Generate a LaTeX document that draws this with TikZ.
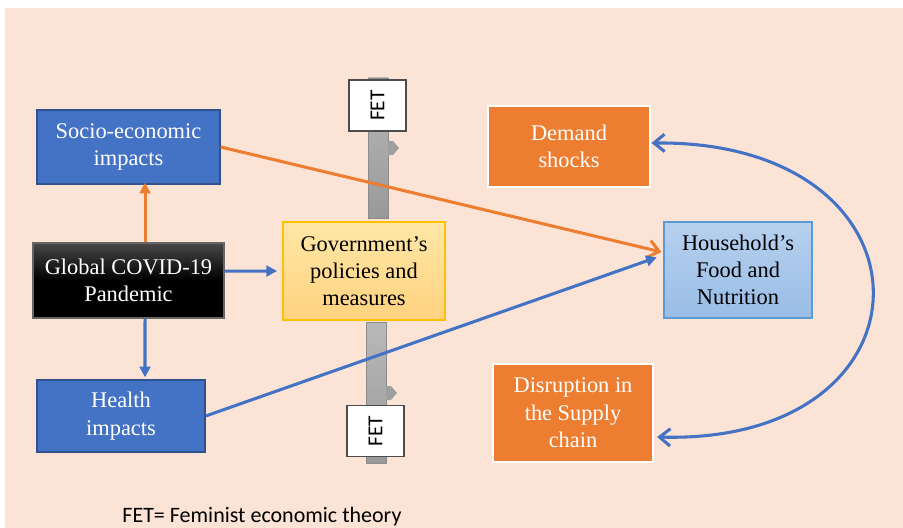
\documentclass[tikz,border=0pt]{standalone}
\usepackage{fontspec}
\setmainfont{Liberation Serif}
\newfontfamily\calibri{Carlito}
\usetikzlibrary{arrows.meta}

\definecolor{pagebg}{HTML}{FBE4D6}
\definecolor{impblue}{HTML}{4472C4}
\definecolor{impline}{HTML}{2F528F}
\definecolor{shockorange}{HTML}{ED7D31}
\definecolor{hhtop}{HTML}{B7D0EE}
\definecolor{hhbottom}{HTML}{99BDE6}
\definecolor{hhline}{HTML}{5B9BD5}
\definecolor{govtop}{HTML}{FFE7A6}
\definecolor{govbottom}{HTML}{FFD27F}
\definecolor{govline}{HTML}{FFC000}

\begin{document}
\begin{tikzpicture}[x=0.75pt,y=-0.75pt,
		box text/.style={rectangle,align=center,inner sep=0pt,font=\fontsize{16.8}{20.5}\selectfont},
		impact box/.style={box text,draw=impline,line width=1pt,fill=impblue,text=white},
		shock box/.style={box text,draw=white,line width=2.2pt,fill=shockorange,text=white},
		fet box/.style={rectangle,draw=black!70,line width=0.8pt,fill=white,font=\calibri\fontsize{16}{18}\selectfont,
			minimum width=42.75pt,minimum height=38.25pt,inner sep=0pt},
		fet bar/.style={draw=gray!90,line width=0.6pt,top color=gray!55,bottom color=gray!80},
		orange link/.style={draw=shockorange,line width=2.3pt},
		blue link/.style={draw=impblue,line width=2.3pt}]
		
		\useasboundingbox (0,0) rectangle (903,528);
		\fill[white] (0,0) rectangle (903,528);
		\fill[pagebg] (5,8) rectangle (903,528);
		
		% FET bars behind the links
		\path[fet bar] (368,78) rectangle (388,218);
		\path[fet bar] (366,322) rectangle (386,463);
		\fill[gray!75] (388,141) -- (393,141) -- (399,148) -- (393,155) -- (388,155) -- cycle;
		\fill[gray!75] (386,386) -- (391,386) -- (397,393) -- (391,400) -- (386,400) -- cycle;
		
		\node[impact box,minimum width=137.25pt,minimum height=55.5pt] (1) at (128.5,147) {Socio-economic\\impacts};
		\node[box text,draw=black!60,line width=0.8pt,top color=black!72,bottom color=black,middle color=black,text=white,
			minimum width=143.25pt,minimum height=56.25pt] (2) at (128.5,280.5) {Global COVID-19\\Pandemic};
		\node[impact box,minimum width=126pt,minimum height=54pt] (3) at (121,416) {Health\\impacts};
		\node[box text,draw=govline,line width=0.8pt,top color=govtop,bottom color=govbottom,
			minimum width=121.5pt,minimum height=73.5pt] (4) at (364,271) {Government's\\policies and\\measures};
		\node[shock box,minimum width=121.5pt,minimum height=60.75pt] (5) at (569,146.5) {Demand\\shocks};
		\node[box text,draw=hhline,line width=0.8pt,top color=hhtop,bottom color=hhbottom,
			minimum width=111pt,minimum height=72pt] (6) at (738,270) {Household's\\Food and\\Nutrition};
		\node[shock box,minimum width=120pt,minimum height=73.5pt] (7) at (573,413) {Disruption in\\the Supply\\chain};
		
		\node[fet box] (8) at (377.5,105.5) {\rotatebox{90}{FET}};
		\node[fet box] (9) at (375.5,431) {\rotatebox{90}{FET}};
		
		\path
		([xshift=12.4pt]2.north) edge[orange link,-{Triangle[length=8pt,width=8pt]}] ([xshift=12.4pt,yshift=1.5pt]1.south)
		([xshift=12.4pt]2.south) edge[blue link,-{Triangle[length=8pt,width=8pt]}] ([xshift=18pt,yshift=1.5pt]3.north)
		([yshift=7pt]2.east) edge[blue link,-{Triangle[length=8pt,width=8pt]}] ([xshift=-4pt]4.west)
		(1.east) edge[orange link,-{Straight Barb[length=8pt,width=13pt]}] ([xshift=-1.5pt,yshift=13.5pt]6.west)
		(3.east) edge[blue link,-{Triangle[length=8pt,width=8pt]}] ([xshift=-5pt,yshift=9.5pt]6.west);
		
		\draw[blue link,{Straight Barb[length=8pt,width=13pt]}-{Straight Barb[length=8pt,width=13pt]}]
		([yshift=2.6pt]5.east) .. controls (945,140) and (945,445) .. ([xshift=2pt,yshift=-18pt]7.east);
		
		\node[font=\calibri\fontsize{16.5}{19}\selectfont] (10) at (262,517) {FET= Feminist economic theory};
\end{tikzpicture}
\end{document}
